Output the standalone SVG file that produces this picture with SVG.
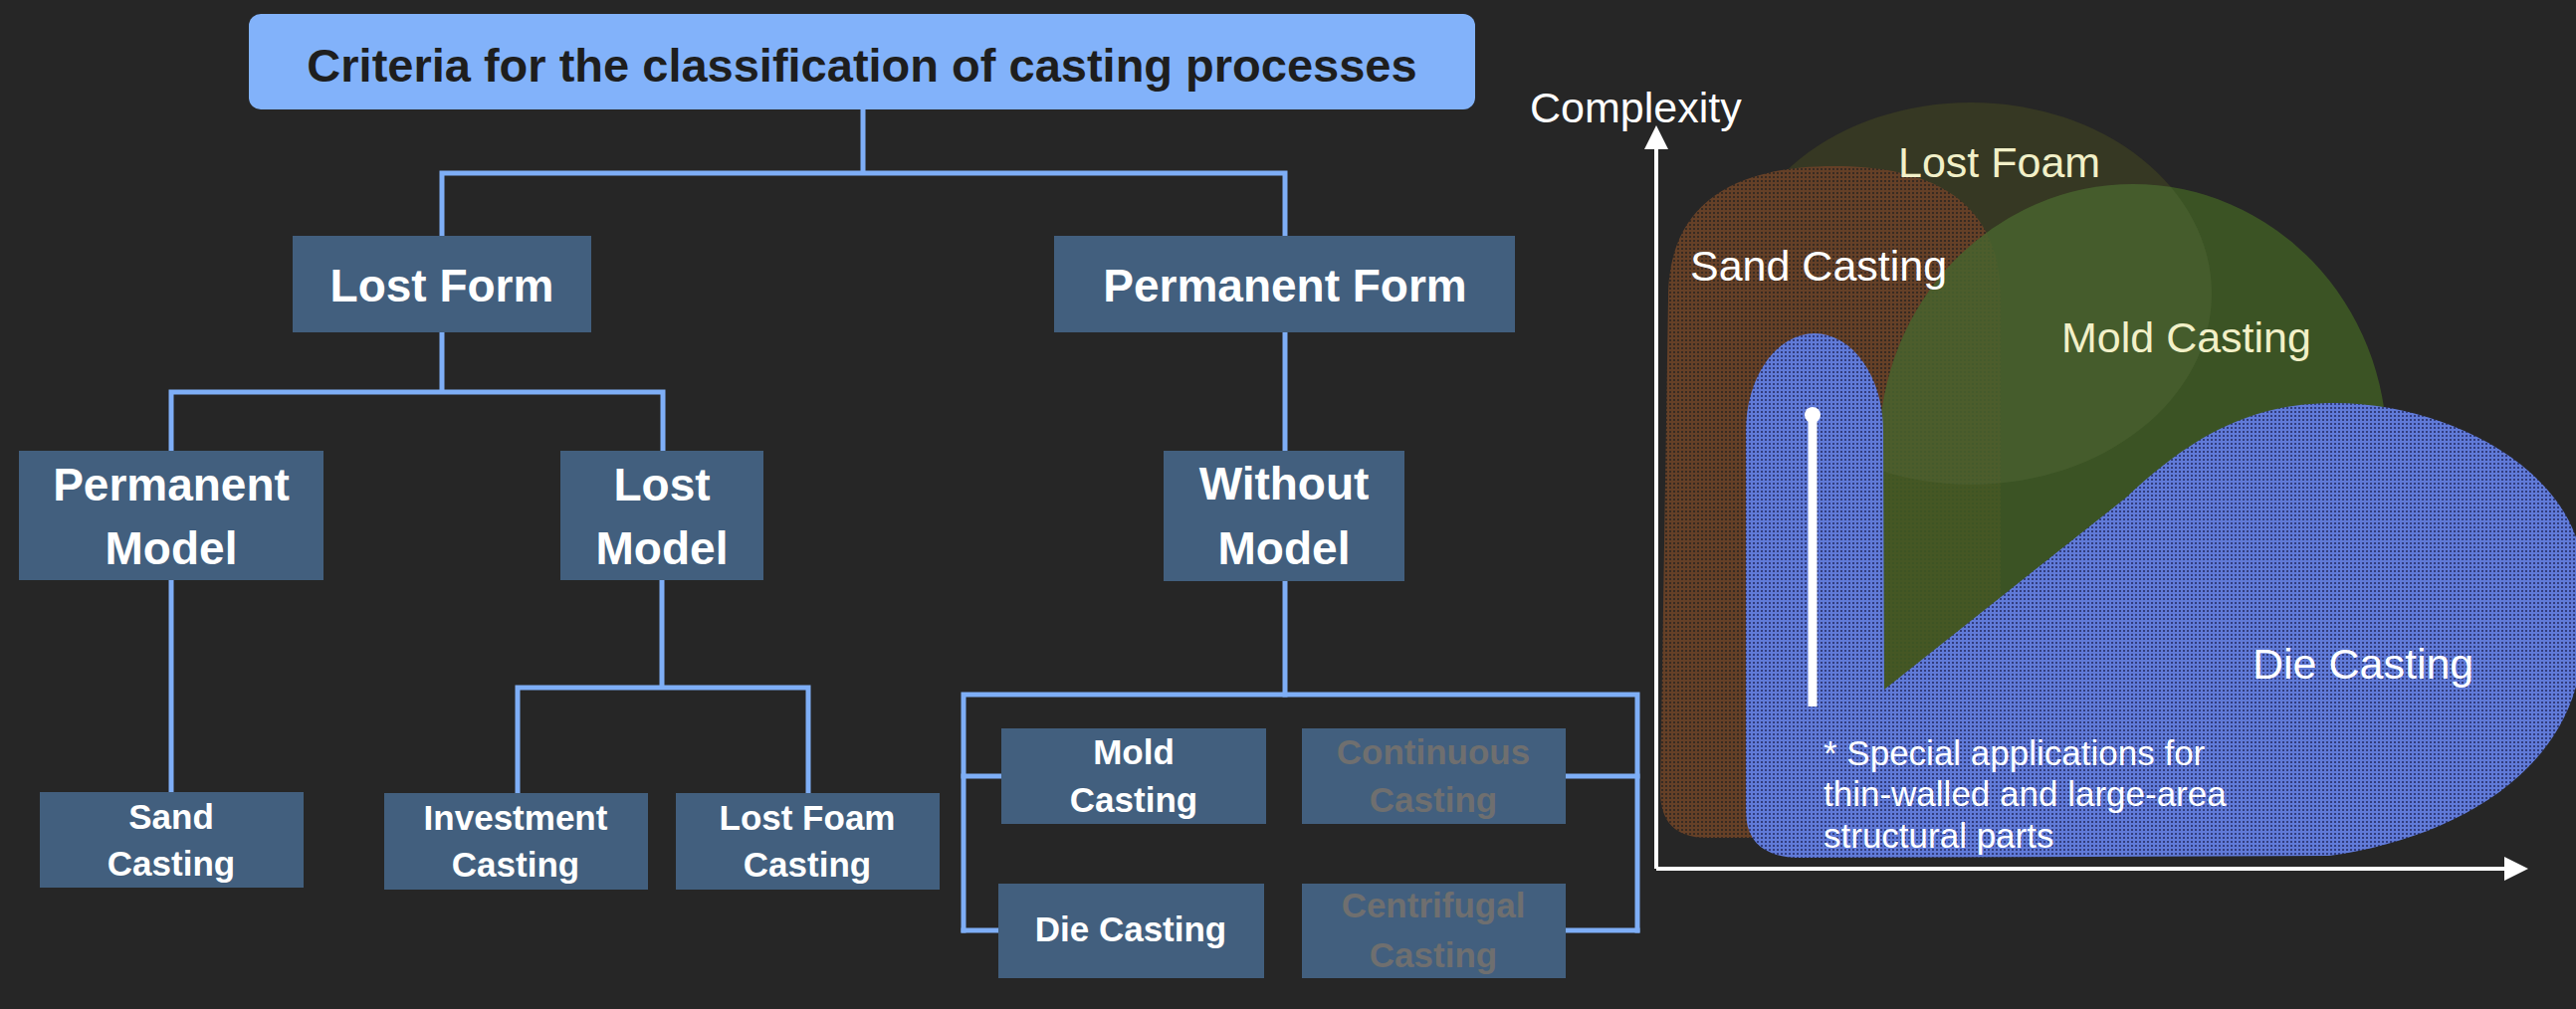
<svg xmlns="http://www.w3.org/2000/svg" width="2588" height="1014" viewBox="0 0 2588 1014">
<style>
.box{fill:#425f7e}
.t{font-family:"Liberation Sans",Arial,Helvetica,sans-serif;font-weight:bold;fill:#ffffff;text-anchor:middle}
.t1{font-size:46px}
.t2{font-size:35px}
.grey{fill:#6f6f6f}
.lbl{font-family:"Liberation Sans",Arial,Helvetica,sans-serif;font-size:43px;fill:#ffffff}
.note{font-family:"Liberation Sans",Arial,Helvetica,sans-serif;font-size:35px;fill:#ffffff}
.cream{fill:#f2f0c8}
.con{fill:none;stroke:#7eaef6;stroke-width:5;stroke-linecap:square}
.axis{fill:none;stroke:#ffffff;stroke-width:4}
</style>
<defs>
<pattern id="sandTex" width="4" height="4" patternUnits="userSpaceOnUse">
<rect width="4" height="4" fill="#654027"/>
<rect x="1" y="1" width="2" height="2" fill="#382b22"/>
</pattern>
<pattern id="dieTex" width="4" height="4" patternUnits="userSpaceOnUse">
<rect width="4" height="4" fill="#607ad8"/>
<rect x="1" y="1" width="2" height="2" fill="#323d7e"/>
</pattern>
<clipPath id="moldClip">
<path d="M1888 710 L1888 450 A255 265 0 0 1 2398 450 L2398 710 Z"/>
</clipPath>
</defs>
<rect width="2588" height="1014" fill="#262626"/>

<g id="connectors">
<path class="con" d="M867 110 V174 M444 237 V174 H1291 V237"/>
<path class="con" d="M444 334 V394 M172 453 V394 H666 V453"/>
<path class="con" d="M1291 334 V453"/>
<path class="con" d="M172 583 V796"/>
<path class="con" d="M665 583 V691 M520 797 V691 H812 V797"/>
<path class="con" d="M1291 584 V698"/>
<path class="con" d="M968 698 H1645 M968 698 V935 M1645 698 V935"/>
<path class="con" d="M968 780 H1006 M968 935 H1003 M1573 780 H1645 M1573 935 H1645"/>
</g>

<g id="title">
<rect x="250" y="14" width="1232" height="96" rx="12" fill="#82b2fa"/>
<text x="866" y="82" font-family="'Liberation Sans',Arial,Helvetica,sans-serif" font-weight="bold" font-size="47" fill="#1e1e1e" text-anchor="middle">Criteria for the classification of casting processes</text>
</g>
<g id="lost-form">
<rect class="box" x="294" y="237" width="300" height="97"/>
<text class="t t1" x="444" y="303">Lost Form</text>
</g>
<g id="permanent-form">
<rect class="box" x="1059" y="237" width="463" height="97"/>
<text class="t t1" x="1291" y="303">Permanent Form</text>
</g>
<g id="permanent-model">
<rect class="box" x="19" y="453" width="306" height="130"/>
<text class="t t1" x="172" y="503">Permanent</text>
<text class="t t1" x="172" y="567">Model</text>
</g>
<g id="lost-model">
<rect class="box" x="563" y="453" width="204" height="130"/>
<text class="t t1" x="665" y="503">Lost</text>
<text class="t t1" x="665" y="567">Model</text>
</g>
<g id="without-model">
<rect class="box" x="1169" y="453" width="242" height="131"/>
<text class="t t1" x="1290" y="502">Without</text>
<text class="t t1" x="1290" y="567">Model</text>
</g>
<g id="sand-casting">
<rect class="box" x="40" y="796" width="265" height="96"/>
<text class="t t2" x="172" y="833">Sand</text>
<text class="t t2" x="172" y="880">Casting</text>
</g>
<g id="investment-casting">
<rect class="box" x="386" y="797" width="265" height="97"/>
<text class="t t2" x="518" y="834">Investment</text>
<text class="t t2" x="518" y="881">Casting</text>
</g>
<g id="lost-foam-casting">
<rect class="box" x="679" y="797" width="265" height="97"/>
<text class="t t2" x="811" y="834">Lost Foam</text>
<text class="t t2" x="811" y="881">Casting</text>
</g>
<g id="mold-casting">
<rect class="box" x="1006" y="732" width="266" height="96"/>
<text class="t t2" x="1139" y="768">Mold</text>
<text class="t t2" x="1139" y="816">Casting</text>
</g>
<g id="continuous-casting">
<rect class="box" x="1308" y="732" width="265" height="96"/>
<text class="t t2 grey" x="1440" y="768">Continuous</text>
<text class="t t2 grey" x="1440" y="816">Casting</text>
</g>
<g id="die-casting">
<rect class="box" x="1003" y="888" width="267" height="95"/>
<text class="t t2" x="1136" y="946">Die Casting</text>
</g>
<g id="centrifugal-casting">
<rect class="box" x="1308" y="888" width="265" height="95"/>
<text class="t t2 grey" x="1440" y="922">Centrifugal</text>
<text class="t t2 grey" x="1440" y="972">Casting</text>
</g>

<g id="chart">
<ellipse cx="1980" cy="295" rx="242" ry="192" fill="#363823"/>
<path d="M1676 300 C1676 205 1740 167 1843 167 C1946 167 2010 205 2010 300 L2010 842 L1715 842 Q1668 842 1668 795 L1676 300 Z" fill="url(#sandTex)"/>
<path d="M1888 710 L1888 450 A255 265 0 0 1 2398 450 L2398 710 Z" fill="#3f5c25" fill-opacity="0.85"/>
<ellipse cx="1980" cy="295" rx="242" ry="192" fill="#ffffff" fill-opacity="0.04" clip-path="url(#moldClip)"/>
<path d="M1754 433 A69 98 0 0 1 1892 433 L1893 693 L2136 500 C2200 440 2260 405 2345 405 C2450 405 2560 460 2588 540 L2588 690 C2560 790 2450 845 2340 860 L1805 862 Q1754 860 1754 815 Z" fill="url(#dieTex)"/>
<line x1="1821" y1="417" x2="1821" y2="710" stroke="#ffffff" stroke-width="9"/>
<circle cx="1821" cy="417" r="8" fill="#ffffff"/>
<text class="lbl" x="1537" y="123">Complexity</text>
<text class="lbl cream" x="1907" y="178">Lost Foam</text>
<text class="lbl" x="1698" y="282">Sand Casting</text>
<text class="lbl cream" x="2071" y="354">Mold Casting</text>
<text class="lbl" x="2263" y="682">Die Casting</text>
<text class="note" x="1832" y="769">* Special applications for</text>
<text class="note" x="1832" y="810">thin-walled and large-area</text>
<text class="note" x="1832" y="852">structural parts</text>
<path class="axis" d="M1664 873 V148 M1664 873 H2518"/>
<polygon points="1664,126 1652,150 1676,150" fill="#ffffff"/>
<polygon points="2540,873 2516,861 2516,885" fill="#ffffff"/>
</g>
</svg>
